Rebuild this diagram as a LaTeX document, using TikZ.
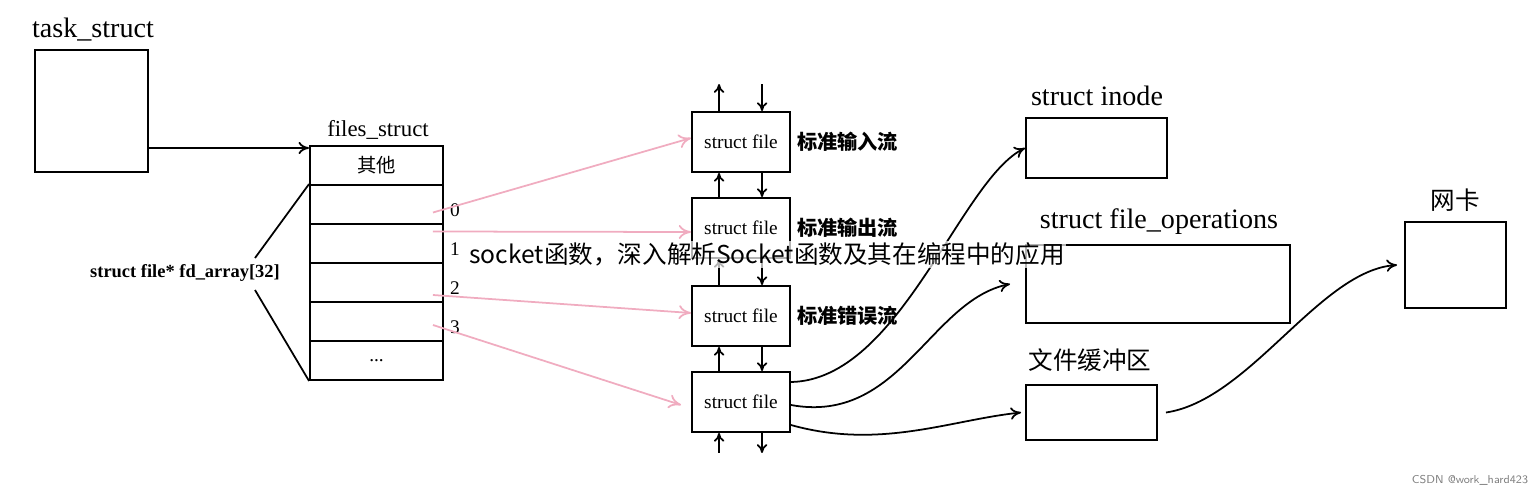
\documentclass[tikz,border=0pt]{standalone}
\usepackage{fontspec}
\setmainfont{Liberation Serif}
\newfontfamily\cjk{Noto Sans CJK SC}
\usetikzlibrary{arrows.meta}
\definecolor{linkpink}{RGB}{240,172,192}
\begin{document}
\begin{tikzpicture}[x=0.02cm,y=-0.02cm,
            box/.style={draw, line width=1.1pt, inner sep=0pt, font=\fontsize{11}{13}\selectfont},
            title/.style={font=\fontsize{16}{19}\selectfont},
            cn/.style={font=\cjk\bfseries\fontsize{11.5}{13}\selectfont},
            link/.style={color=linkpink, line width=1pt, -{To[length=7pt,width=8pt]}},
            curve/.style={line width=1pt, -{To[length=6pt,width=7pt]}},
            vert/.style={line width=1pt, -{To[length=5pt,width=6pt]}}]
        \useasboundingbox (0,0) rectangle (1532,490);

        % task_struct
        \node[title] (tasklbl) at (93,30) {task\_struct};
        \node[box, minimum width=2.26cm, minimum height=2.44cm] (task) at (91.5,111) {};

        % files_struct table
        \node[title, font=\fontsize{13}{15}\selectfont] (fileslbl) at (378,130) {files\_struct};
        \foreach \i/\y/\t in {0/165.5/{\cjk 其他}, 1/204.5/{}, 2/243.5/{}, 3/282.5/{}, 4/321.5/{}, 5/360.5/{...}}
            \node[box, minimum width=2.66cm, minimum height=0.78cm] (row\i) at (376.5,\y) {\t};
        \draw[curve] (task.east |- 0,148) -- (row0.west |- 0,148);

        \node[font=\fontsize{10.5}{12}\selectfont\bfseries] (fdlbl) at (185,273) {struct file* fd\_array[32]};
        \draw[line width=1pt] (255,258) -- (row1.north west);
        \draw[line width=1pt] (255,290) -- (row5.south west);

        \foreach \i/\n in {1/0, 2/1, 3/2, 4/3}
            \node[font=\fontsize{11}{13}\selectfont, anchor=west] (idx\n) at ([yshift=0.3cm]row\i.south east) {\n};

        % struct file chain
        \foreach \i/\y in {1/142, 2/228, 3/316, 4/402}
            \node[box, minimum width=1.96cm, minimum height=1.2cm] (file\i) at (741,\y) {struct file};
        \node[cn, anchor=west] (stdin) at (file1.east) {标准输入流};
        \node[cn, anchor=west] (stdout) at (file2.east) {标准输出流};
        \node[cn, anchor=west] (stderr) at (file3.east) {标准错误流};

        \foreach \a/\b in {1/2, 2/3, 3/4} {
            \draw[vert] ([xshift=0.56cm]file\b.north west) -- ([xshift=0.56cm]file\a.south west);
            \draw[vert] ([xshift=1.42cm]file\a.south west) -- ([xshift=1.42cm]file\b.north west);
        }
        \draw[vert] ([xshift=0.56cm]file1.north west) -- ++(0,-27);
        \draw[vert] ([xshift=1.42cm]file1.north west) ++(0,-27) -- ([xshift=1.42cm]file1.north west);
        \draw[vert] ([xshift=0.56cm]file4.south west) ++(0,20) -- ([xshift=0.56cm]file4.south west);
        \draw[vert] ([xshift=1.42cm]file4.south west) -- ++(0,20);

        % fd entries to files
        \draw[link] ([xshift=-0.22cm,yshift=-0.16cm]row1.east) -- ([yshift=0.08cm]file1.west);
        \draw[link] ([xshift=-0.22cm,yshift=0.24cm]row2.east) -- ([yshift=-0.08cm]file2.west);
        \draw[link] ([xshift=-0.22cm,yshift=-0.25cm]row3.east) -- ([yshift=0.06cm]file3.west);
        \draw[link] ([xshift=-0.22cm,yshift=-0.07cm]row4.east) -- ([xshift=-0.2cm,yshift=-0.06cm]file4.west);

        % right side
        \node[title] (inodelbl) at (1097,96) {struct inode};
        \node[box, minimum width=2.82cm, minimum height=1.2cm] (inode) at (1096.5,148) {};
        \node[title] (fopslbl) at (1159,222) {struct file\_operations};
        \node[box, minimum width=5.28cm, minimum height=1.56cm] (fops) at (1158,284) {};
        \node[cn, font=\cjk\fontsize{14}{16}\selectfont] (buflbl) at (1090,360) {文件缓冲区};
        \node[box, minimum width=2.62cm, minimum height=1.1cm] (buf) at (1091.5,412.5) {};
        \node[cn, font=\cjk\fontsize{14}{16}\selectfont] (niclbl) at (1455,200) {网卡};
        \node[box, minimum width=2.02cm, minimum height=1.72cm] (nic) at (1455.5,265) {};

        \draw[curve] ([yshift=0.4cm]file4.east) .. controls (900,380) and (960,180) .. ([yshift=0cm]inode.west);
        \draw[curve] ([yshift=-0.06cm]file4.east) .. controls (900,425) and (930,300) .. ([xshift=-0.3cm]fops.west);
        \draw[curve] ([yshift=-0.46cm]file4.east) .. controls (880,450) and (950,420) .. ([xshift=-0.08cm]buf.west);
        \draw[curve] ([xshift=0.16cm]buf.east) .. controls (1250,400) and (1320,270) .. ([xshift=-0.14cm]nic.west);

        % page overlay texts
        \node[font=\cjk\fontsize{14}{16}\selectfont, fill=white, fill opacity=0.7, text opacity=1, inner sep=1pt] (overlay) at (767,254) {socket函数，深入解析Socket函数及其在编程中的应用};
        \node[font=\fontsize{6.5}{7}\selectfont\sffamily, text=gray] (mark) at (1470,480) {CSDN @work\_hard423};
    \end{tikzpicture}
\end{document}
